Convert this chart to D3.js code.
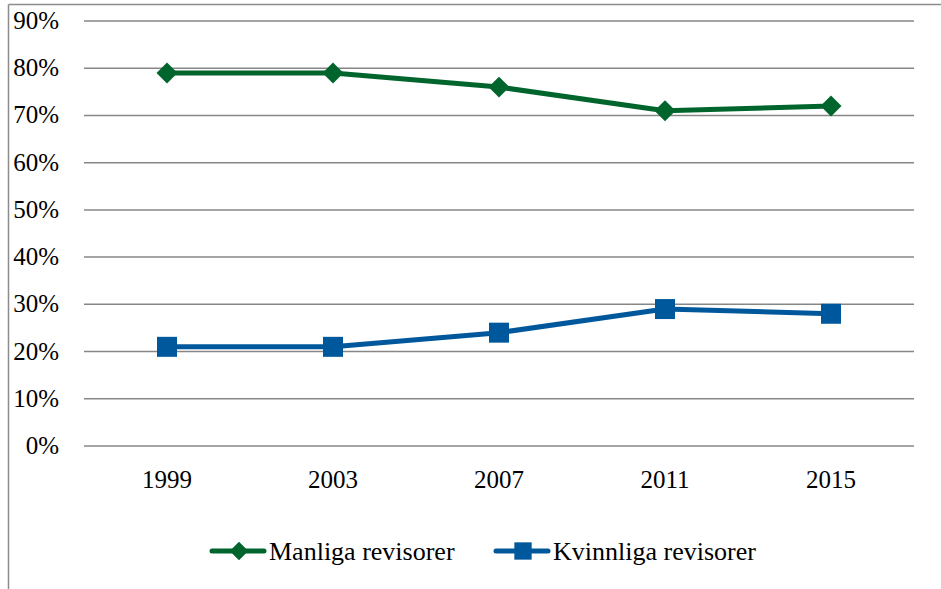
<!DOCTYPE html>
<html>
<head>
<meta charset="utf-8">
<script src="https://d3js.org/d3.v7.min.js"></script>
<style>
  body { margin: 0; background: #fff; }
  text { font-family: "Liberation Serif", "Times New Roman", serif; fill: #000; }
</style>
</head>
<body>
<div id="chart"></div>
<script>
var years = ["1999", "2003", "2007", "2011", "2015"];
var manliga = [0.79, 0.79, 0.76, 0.71, 0.72];
var kvinnliga = [0.21, 0.21, 0.24, 0.29, 0.28];
var yTicks = [0, 0.1, 0.2, 0.3, 0.4, 0.5, 0.6, 0.7, 0.8, 0.9];
var seriesNames = ["Manliga revisorer", "Kvinnliga revisorer"];

var W = 941, H = 589;
var green = "#00652d", blue = "#00589c";

var svg = d3.select("#chart").append("svg")
    .attr("width", W)
    .attr("height", H);

// outer frame (top + left visible)
svg.append("line").attr("x1", 8.5).attr("x2", W).attr("y1", 4.5).attr("y2", 4.5)
    .attr("stroke", "#8c8c8c").attr("stroke-width", 1.5);
svg.append("line").attr("x1", 8.5).attr("x2", 8.5).attr("y1", 4.5).attr("y2", H)
    .attr("stroke", "#8c8c8c").attr("stroke-width", 1.5);

var xScale = d3.scalePoint()
    .domain(years)
    .range([84, 914])
    .padding(0.5);

var yScale = d3.scaleLinear()
    .domain([0, 0.9])
    .range([446, 21]);

// gridlines
svg.append("g")
    .selectAll("line")
    .data(yTicks)
    .join("line")
    .attr("x1", 84)
    .attr("x2", 914)
    .attr("y1", function (d) { return yScale(d); })
    .attr("y2", function (d) { return yScale(d); })
    .attr("stroke", "#878787")
    .attr("stroke-width", 1.5);

// y labels
svg.append("g")
    .selectAll("text")
    .data(yTicks)
    .join("text")
    .attr("x", 59)
    .attr("y", function (d) { return yScale(d) + 8; })
    .attr("text-anchor", "end")
    .style("font-size", "25px")
    .text(d3.format(".0%"));

// x labels
svg.append("g")
    .selectAll("text")
    .data(years)
    .join("text")
    .attr("x", function (d) { return xScale(d); })
    .attr("y", 488)
    .attr("text-anchor", "middle")
    .style("font-size", "25px")
    .text(function (d) { return d; });

var line = d3.line()
    .x(function (d, i) { return xScale(years[i]); })
    .y(function (d) { return yScale(d); });

function drawSeries(values, color, shape, size) {
    svg.append("path")
        .datum(values)
        .attr("fill", "none")
        .attr("stroke", color)
        .attr("stroke-width", 5)
        .attr("stroke-linejoin", "round")
        .attr("d", line);
    svg.append("g")
        .selectAll("path")
        .data(values)
        .join("path")
        .attr("d", d3.symbol().type(shape).size(size))
        .attr("transform", function (d, i) {
            return "translate(" + xScale(years[i]) + "," + yScale(d) + ")";
        })
        .attr("fill", color);
}

drawSeries(manliga, green, d3.symbolDiamond2, 280);
drawSeries(kvinnliga, blue, d3.symbolSquare, 400);

// legend
var legendItems = [
    { name: seriesNames[0], color: green, shape: d3.symbolDiamond2, size: 220, x: 212 },
    { name: seriesNames[1], color: blue, shape: d3.symbolSquare, size: 300, x: 496 }
];
var ly = 551;
var lg = svg.append("g")
    .selectAll("g")
    .data(legendItems)
    .join("g")
    .attr("transform", function (d) { return "translate(" + d.x + "," + ly + ")"; });

lg.append("line")
    .attr("x1", 0).attr("x2", 52)
    .attr("stroke", function (d) { return d.color; })
    .attr("stroke-width", 5)
    .attr("stroke-linecap", "round");
lg.append("path")
    .attr("d", function (d) { return d3.symbol().type(d.shape).size(d.size)(); })
    .attr("transform", "translate(27,0)")
    .attr("fill", function (d) { return d.color; });
lg.append("text")
    .attr("x", 57)
    .attr("y", 9)
    .style("font-size", "26px")
    .text(function (d) { return d.name; });
</script>
</body>
</html>
